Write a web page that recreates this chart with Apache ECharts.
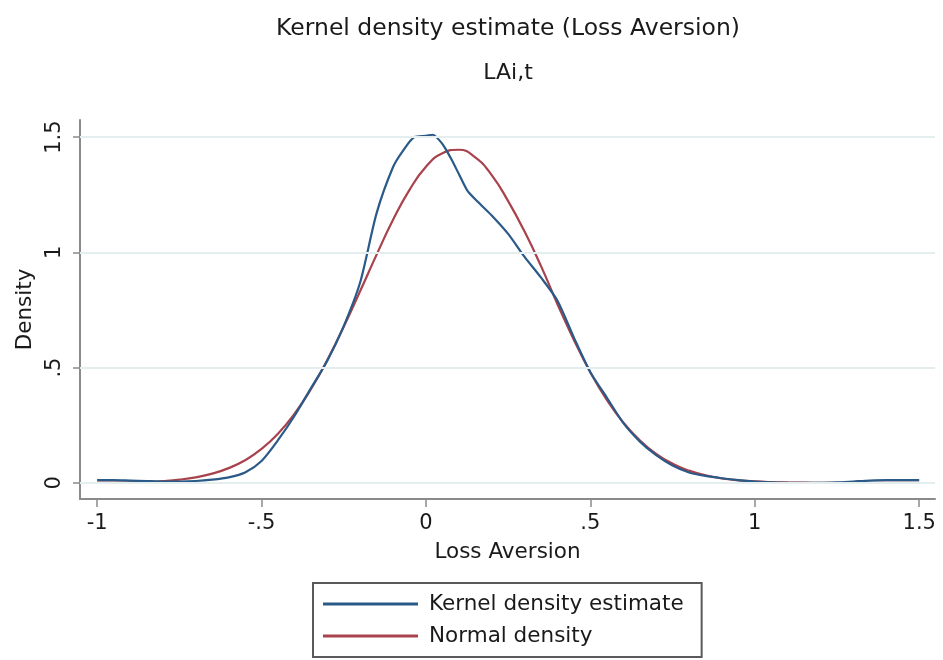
<!DOCTYPE html>
<html>
<head>
<meta charset="utf-8">
<script src="https://cdn.jsdelivr.net/npm/echarts@6/dist/echarts.min.js"></script>
<style>
html,body{margin:0;padding:0;background:#fff;}
#chart{width:943px;height:660px;}
</style>
</head>
<body>
<div id="chart"></div>
<script>
// ---- data ----
const titleText = 'Kernel density estimate (Loss Aversion)';
const subtitleText = 'LAi,t';
const xAxisName = 'Loss Aversion';
const yAxisName = 'Density';
const seriesNames = ['Kernel density estimate', 'Normal density'];

const xTickValues = [-1, -0.5, 0, 0.5, 1, 1.5];
const xTickLabels = ['-1', '-.5', '0', '.5', '1', '1.5'];
const yTickValues = [0, 0.5, 1, 1.5];
const yTickLabels = ['0', '.5', '1', '1.5'];

const kdeX = [-1.00,-0.95,-0.90,-0.85,-0.80,-0.75,-0.70,-0.65,-0.60,-0.55,-0.50,-0.45,-0.40,-0.35,-0.30,-0.25,-0.20,-0.15,-0.10,-0.07,-0.035,0.00,0.02,0.05,0.075,0.10,0.125,0.15,0.20,0.25,0.30,0.35,0.40,0.45,0.50,0.55,0.60,0.65,0.70,0.75,0.80,0.85,0.90,0.95,1.00,1.05,1.10,1.15,1.20,1.25,1.30,1.35,1.40,1.45,1.50];
const kdeY = [0.012,0.012,0.010,0.008,0.006,0.006,0.008,0.014,0.024,0.045,0.095,0.185,0.29,0.41,0.53,0.68,0.87,1.17,1.37,1.44,1.50,1.505,1.51,1.47,1.41,1.34,1.27,1.23,1.16,1.08,0.98,0.89,0.79,0.63,0.48,0.37,0.26,0.18,0.12,0.075,0.045,0.03,0.02,0.012,0.006,0.002,0.0,0.0,0.0,0.002,0.006,0.010,0.012,0.012,0.012];

const normX = [-1.00,-0.95,-0.90,-0.85,-0.80,-0.75,-0.70,-0.65,-0.60,-0.55,-0.50,-0.45,-0.40,-0.35,-0.30,-0.25,-0.20,-0.15,-0.10,-0.05,0.00,0.05,0.10,0.15,0.20,0.25,0.30,0.35,0.40,0.45,0.50,0.55,0.60,0.65,0.70,0.75,0.80,0.85,0.90,0.95,1.00,1.05,1.10,1.15,1.20,1.25,1.30,1.35,1.40,1.45,1.50];
const normY = [0.0006,0.0012,0.0023,0.0044,0.008,0.014,0.024,0.040,0.064,0.098,0.147,0.213,0.299,0.406,0.533,0.677,0.832,0.990,1.141,1.271,1.371,1.430,1.445,1.412,1.335,1.222,1.090,0.940,0.775,0.620,0.479,0.360,0.262,0.185,0.126,0.083,0.053,0.033,0.019,0.011,0.0063,0.0034,0.0018,0.0009,0.0004,0.0002,0.0001,0.0,0.0,0.0,0.0];

// ---- chart ----
const FONT = 'DejaVu Sans';
const pair = (xs, ys) => xs.map((x, i) => [x, ys[i]]);
const chart = echarts.init(document.getElementById('chart'), null, {renderer: 'canvas'});

chart.setOption({
  backgroundColor: '#ffffff',
  animation: false,
  title: [
    {text: titleText, left: 508, textAlign: 'center', top: 17, padding: 0,
     textStyle: {fontFamily: FONT, fontSize: 23.5, fontWeight: 'normal', color: '#1a1a1a'}},
    {text: subtitleText, left: 508, textAlign: 'center', top: 62, padding: 0,
     textStyle: {fontFamily: FONT, fontSize: 22, fontWeight: 'normal', color: '#1a1a1a'}}
  ],
  grid: {left: 80, right: 8, top: 120, bottom: 161, containLabel: false},
  xAxis: {
    type: 'value', min: -1.052, max: 1.548,
    name: xAxisName, nameLocation: 'middle', nameGap: 42,
    nameTextStyle: {fontFamily: FONT, fontSize: 21.5, color: '#1a1a1a'},
    axisLine: {show: true, onZero: false, lineStyle: {color: '#8a8a8a', width: 2}},
    axisTick: {show: true, length: 8, customValues: xTickValues, lineStyle: {color: '#8a8a8a', width: 1.5}},
    axisLabel: {show: true, margin: 14, customValues: xTickValues,
      fontFamily: FONT, fontSize: 21, color: '#1a1a1a',
      formatter: v => { const i = xTickValues.findIndex(t => Math.abs(t - v) < 1e-9); return i >= 0 ? xTickLabels[i] : ''; }},
    splitLine: {show: false}
  },
  yAxis: {
    type: 'value', min: -0.07, max: 1.574,
    name: yAxisName, nameLocation: 'middle', nameGap: 43, nameRotate: 90,
    nameTextStyle: {fontFamily: FONT, fontSize: 21.5, color: '#1a1a1a'},
    axisLine: {show: true, onZero: false, lineStyle: {color: '#8a8a8a', width: 2}},
    axisTick: {show: true, length: 7, customValues: yTickValues, lineStyle: {color: '#8a8a8a', width: 1.5}},
    axisLabel: {show: true, margin: 15, rotate: 90, customValues: yTickValues,
      fontFamily: FONT, fontSize: 21, color: '#1a1a1a',
      formatter: v => { const i = yTickValues.findIndex(t => Math.abs(t - v) < 1e-9); return i >= 0 ? yTickLabels[i] : ''; }},
    splitLine: {show: false}
  },
  legend: {
    data: seriesNames,
    orient: 'vertical',
    left: 313, top: 583,
    padding: [10, 18, 10, 10],
    itemGap: 10,
    itemWidth: 95, itemHeight: 3,
    icon: 'rect',
    borderColor: '#5a5a5a', borderWidth: 2, borderRadius: 0,
    backgroundColor: '#ffffff',
    textStyle: {fontFamily: FONT, fontSize: 21.5, color: '#1a1a1a', lineHeight: 22, padding: [0, 0, 0, 6]},
    selectedMode: false
  },
  series: [
    {
      name: '__grid', type: 'line', data: [], silent: true, z: 1,
      markLine: {
        silent: true, symbol: ['none', 'none'], label: {show: false},
        lineStyle: {color: '#e4eeef', width: 2, type: 'solid'},
        data: yTickValues.map(v => ({yAxis: v}))
      }
    },
    {
      name: seriesNames[0], type: 'line', data: pair(kdeX, kdeY),
      showSymbol: false, smooth: 0.25, z: 4,
      lineStyle: {color: '#2a5a88', width: 2.2}, itemStyle: {color: '#2a5a88'}
    },
    {
      name: seriesNames[1], type: 'line', data: pair(normX, normY),
      showSymbol: false, smooth: true, z: 3,
      lineStyle: {color: '#a8424c', width: 2.2}, itemStyle: {color: '#a8424c'}
    }
  ]
});
</script>
</body>
</html>
